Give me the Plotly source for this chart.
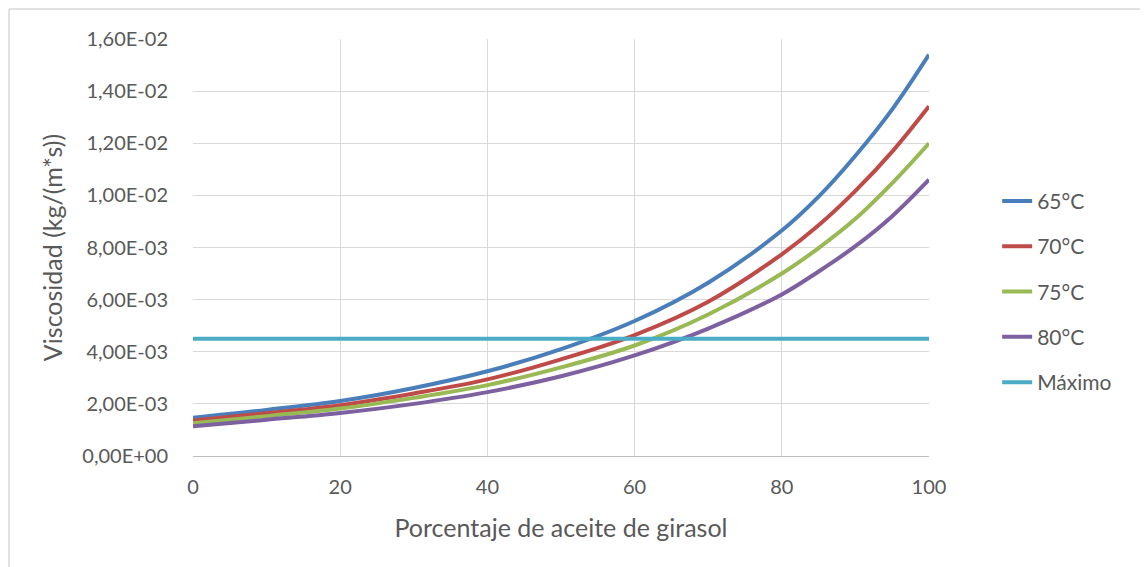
import plotly.graph_objects as go

# Data
porcentaje = [0, 10, 20, 30, 40, 50, 60, 70, 80, 85, 90, 95, 100]
visc_65 = [1.47e-3, 1.77e-3, 2.11e-3, 2.61e-3, 3.25e-3, 4.10e-3, 5.18e-3, 6.65e-3, 8.65e-3, 9.95e-3, 1.152e-2, 1.33e-2, 1.54e-2]
visc_70 = [1.36e-3, 1.64e-3, 1.95e-3, 2.40e-3, 2.94e-3, 3.71e-3, 4.64e-3, 5.92e-3, 7.74e-3, 8.85e-3, 1.017e-2, 1.168e-2, 1.342e-2]
visc_75 = [1.255e-3, 1.53e-3, 1.82e-3, 2.23e-3, 2.72e-3, 3.40e-3, 4.24e-3, 5.43e-3, 7.00e-3, 7.98e-3, 9.10e-3, 1.047e-2, 1.20e-2]
visc_80 = [1.14e-3, 1.39e-3, 1.65e-3, 2.00e-3, 2.45e-3, 3.06e-3, 3.86e-3, 4.89e-3, 6.20e-3, 7.08e-3, 8.05e-3, 9.20e-3, 1.06e-2]
maximo_x = [0, 100]
maximo = [4.5e-3, 4.5e-3]

series_names = ["65°C", "70°C", "75°C", "80°C", "Máximo"]
series_colors = ["#4A7EBB", "#BE4B48", "#98B954", "#7D60A0", "#4BACC6"]

y_tickvals = [0, 0.002, 0.004, 0.006, 0.008, 0.010, 0.012, 0.014, 0.016]
y_ticktext = ["0,00E+00", "2,00E-03", "4,00E-03", "6,00E-03", "8,00E-03",
              "1,00E-02", "1,20E-02", "1,40E-02", "1,60E-02"]
x_tickvals = [0, 20, 40, 60, 80, 100]

FONT = "Lato"
TXT = "#595959"

fig = go.Figure()
curves = [visc_65, visc_70, visc_75, visc_80]
for i, ys in enumerate(curves):
    fig.add_trace(go.Scatter(
        x=porcentaje, y=ys, mode="lines", name=series_names[i],
        legendgroup=series_names[i],
        line=dict(color=series_colors[i], width=4, shape="spline", smoothing=1.0),
    ))
fig.add_trace(go.Scatter(
    x=maximo_x, y=maximo, mode="lines", name=series_names[4],
    legendgroup=series_names[4],
    line=dict(color=series_colors[4], width=4),
))

fig.update_layout(
    width=1148, height=567,
    margin=dict(l=185, r=227, t=31, b=119),
    paper_bgcolor="white", plot_bgcolor="white",
    font=dict(family=FONT, color=TXT, size=20),
    legend=dict(
        x=1.0926, y=0.66, xanchor="left", yanchor="top",
        font=dict(family=FONT, size=21, color=TXT),
        tracegroupgap=15, traceorder="grouped",
        bgcolor="rgba(0,0,0,0)",
    ),
    shapes=[
        dict(type="line", xref="paper", yref="paper", x0=-0.2500, x1=-0.2500, y0=1.072, y1=-0.35,
             line=dict(color="#D9D9D9", width=1.5)),
        dict(type="line", xref="paper", yref="paper", x0=-0.2500, x1=1.35, y0=1.072, y1=1.072,
             line=dict(color="#D9D9D9", width=1.5)),
    ],
)

fig.update_xaxes(
    range=[0, 100], tickvals=x_tickvals, ticks="",
    showgrid=True, gridcolor="#D9D9D9", gridwidth=1.3,
    showline=True, linecolor="#BFBFBF", linewidth=1.3,
    zeroline=False,
    tickfont=dict(family=FONT, size=20, color=TXT),
    ticklabelstandoff=13,
    title=dict(text="Porcentaje de aceite de girasol", font=dict(family=FONT, size=25, color=TXT), standoff=22),
    automargin=False,
)
fig.update_yaxes(
    range=[0, 0.016], tickvals=y_tickvals, ticktext=y_ticktext, ticks="",
    showgrid=True, gridcolor="#D9D9D9", gridwidth=1.3,
    showline=False, zeroline=False,
    tickfont=dict(family=FONT, size=20, color=TXT),
    ticklabelstandoff=24,
    title=dict(text="Viscosidad (kg/(m*s))", font=dict(family=FONT, size=25, color=TXT), standoff=12),
    automargin=True,
)

fig.write_html("out.html")
